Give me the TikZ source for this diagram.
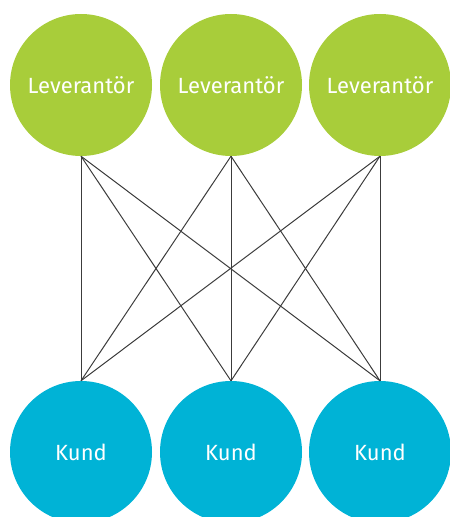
\documentclass[tikz,border=0pt]{standalone}
\usepackage{fontspec}
\setmainfont{Fira Sans}
\definecolor{supplier}{HTML}{A8CD3A}
\definecolor{customer}{HTML}{00B3D6}
\definecolor{link}{HTML}{3C3C3C}
\begin{document}
\begin{tikzpicture}[x=1pt,y=1pt,
  party/.style={circle,minimum size=142pt,inner sep=0pt,text=white,font=\fontsize{22}{26}\selectfont},
  lev/.style={party,fill=supplier},
  kund/.style={party,fill=customer},
  tie/.style={draw=link,line width=1pt}]
  \useasboundingbox (0,0) rectangle (450,517);
  \begin{scope}
    \clip (0,0) rectangle (450,517);
    % suppliers
    \node[lev] (s1) at (81,432) {Leverantör};
    \node[lev] (s2) at (231,432) {Leverantör};
    \node[lev] (s3) at (380,432) {Leverantör};
    % customers
    \node[kund] (c1) at (81,65) {Kund};
    \node[kund] (c2) at (231,65) {Kund};
    \node[kund] (c3) at (380,65) {Kund};
    % every supplier linked to every customer
    \foreach \s in {s1,s2,s3}
      \foreach \c in {c1,c2,c3}
        \draw[tie] (\s.south) -- (\c.north);
  \end{scope}
\end{tikzpicture}
\end{document}
